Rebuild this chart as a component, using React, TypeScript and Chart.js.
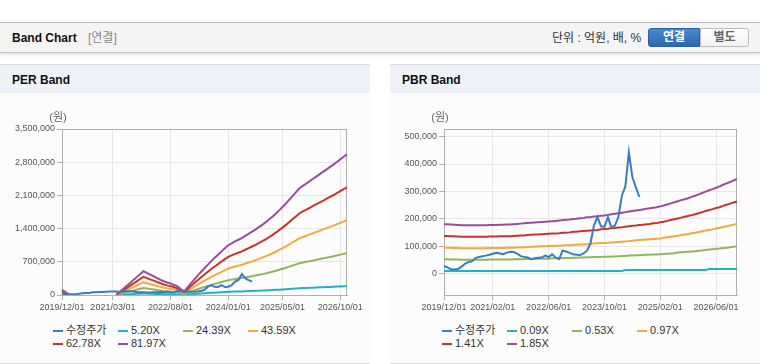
import React, { useEffect, useRef } from "react";
import { Chart, registerables } from "chart.js";
Chart.register(...registerables);

const FONT = "'Liberation Sans', 'Noto Sans CJK KR', sans-serif";
const TICK_FONT = "'Liberation Sans', sans-serif";

// monthly categories 2019/12 .. 2026/12
const MONTHS: string[] = (() => {
  const out: string[] = [];
  let y = 2019, m = 12;
  for (let i = 0; i < 85; i++) {
    out.push(`${y}/${String(m).padStart(2, "0")}/01`);
    m++;
    if (m > 12) { m = 1; y++; }
  }
  return out;
})();

const PER_X_TICKS = ["2019/12/01", "2021/03/01", "2022/08/01", "2024/01/01", "2025/05/01", "2026/10/01"];
const PBR_X_TICKS = ["2019/12/01", "2021/02/01", "2022/06/01", "2023/10/01", "2025/02/01", "2026/06/01"];
const PER_Y_TICKS = [0, 700000, 1400000, 2100000, 2800000, 3500000];
const PBR_Y_TICKS = [0, 100000, 200000, 300000, 400000, 500000];

const N13 = [null, null, null, null, null, null, null, null, null, null, null, null, null];
const N28 = [null, null, null, null, null, null, null, null, null, null, null, null, null, null, null, null, null, null, null, null, null, null, null, null, null, null, null, null];

const PRICE: (number | null)[] = [
  27000, 22000, 15000, 14000, 16000, 24000, 35000, 42000, 44000, 56000,
  60000, 63000, 65000, 68000, 72000, 75000, 73000, 70000, 76000, 79000,
  78000, 72000, 63000, 60000, 58000, 52000, 55000, 57000, 58000, 65000,
  60000, 70000, 58000, 52000, 83000, 80000, 75000, 70000, 68000, 67000,
  73000, 83000, 110000, 176000, 206000, 172000, 170000, 206000, 168000, 175000,
  206000, 285000, 318000, 443000, 352000, 315000, 280000,
  ...N28,
];

const PER_5_20: (number | null)[] = [
  7000, 4000, 1000, ...N13,
  0, 4000, 8000, 12000, 16000, 20000, 24000, 28000, 32000,
  29000, 27000, 25000, 23000, 20000, 18000, 17000, 16000, 14000, 11000, 8000, 5000,
  10000, 16000, 21000, 26000, 31000, 36000, 41000, 45000, 50000, 54000, 58000, 62000, 67000,
  69000, 72000, 74000, 76000, 79000, 82000, 85000, 87000, 91000, 94000, 97000, 101000, 105000, 109000, 113000, 118000, 122000, 127000, 133000, 138000, 143000, 146000, 149000, 152000, 155000, 159000, 162000, 165000, 168000, 171000, 174000, 178000, 181000, 185000, 188000,
];
const PER_24_39: (number | null)[] = [
  33000, 18000, 4000, ...N13,
  1000, 19000, 37000, 57000, 74000, 94000, 112000, 131000, 149000,
  138000, 128000, 118000, 107000, 96000, 86000, 79000, 73000, 64000, 54000, 37000, 22000,
  48000, 73000, 98000, 122000, 146000, 168000, 190000, 213000, 234000, 253000, 274000, 293000, 312000,
  324000, 336000, 347000, 357000, 370000, 384000, 397000, 411000, 425000, 440000, 455000, 473000, 491000, 510000, 531000, 552000, 574000, 598000, 622000, 646000, 669000, 684000, 699000, 714000, 729000, 744000, 759000, 774000, 788000, 803000, 818000, 834000, 851000, 867000, 882000,
];
const PER_43_59: (number | null)[] = [
  58000, 32000, 8000, ...N13,
  3000, 35000, 67000, 101000, 133000, 168000, 200000, 234000, 266000,
  247000, 229000, 210000, 190000, 171000, 154000, 141000, 130000, 114000, 96000, 67000, 40000,
  85000, 130000, 176000, 218000, 261000, 301000, 340000, 380000, 418000, 452000, 489000, 524000, 559000,
  580000, 601000, 620000, 638000, 662000, 686000, 710000, 734000, 761000, 787000, 814000, 846000, 878000, 912000, 950000, 987000, 1027000, 1069000, 1112000, 1154000, 1197000, 1224000, 1250000, 1277000, 1303000, 1330000, 1357000, 1383000, 1410000, 1436000, 1463000, 1492000, 1522000, 1551000, 1577000,
];
const PER_62_78: (number | null)[] = [
  84000, 46000, 11000, ...N13,
  4000, 50000, 96000, 146000, 192000, 241000, 287000, 337000, 383000,
  356000, 329000, 303000, 274000, 247000, 222000, 203000, 188000, 165000, 138000, 96000, 57000,
  123000, 188000, 253000, 314000, 375000, 433000, 490000, 548000, 601000, 651000, 705000, 755000, 804000,
  835000, 866000, 892000, 919000, 954000, 988000, 1023000, 1057000, 1095000, 1134000, 1172000, 1218000, 1264000, 1314000, 1367000, 1421000, 1478000, 1540000, 1601000, 1662000, 1724000, 1762000, 1800000, 1838000, 1877000, 1915000, 1953000, 1992000, 2030000, 2068000, 2107000, 2149000, 2191000, 2233000, 2271000,
];
const PER_81_97: (number | null)[] = [
  110000, 60000, 15000, ...N13,
  5000, 65000, 125000, 190000, 250000, 315000, 375000, 440000, 500000,
  465000, 430000, 395000, 358000, 322000, 290000, 265000, 245000, 215000, 180000, 125000, 75000,
  160000, 245000, 330000, 410000, 490000, 565000, 640000, 715000, 785000, 850000, 920000, 985000, 1050000,
  1090000, 1130000, 1165000, 1200000, 1245000, 1290000, 1335000, 1380000, 1430000, 1480000, 1530000, 1590000, 1650000, 1715000, 1785000, 1855000, 1930000, 2010000, 2090000, 2170000, 2250000, 2300000, 2350000, 2400000, 2450000, 2500000, 2550000, 2600000, 2650000, 2700000, 2750000, 2805000, 2860000, 2915000, 2965000,
];

const PBR_0_09: number[] = [
  8500, 8500, 8500, 8500, 8500, 8500, 8500, 8500, 8500, 8500,
  8500, 8500, 8500, 8500, 8500, 8500, 8500, 8500, 8500, 8500,
  8500, 8500, 8500, 8500, 8500, 8500, 8500, 8500, 8500, 8500,
  8500, 8500, 8500, 8500, 8500, 8500, 8500, 8500, 8500, 8500,
  8500, 8500, 8500, 8500, 8500, 8500, 8500, 8500, 8500, 8500,
  8500, 8500, 12000, 12000, 12000, 12000, 12000, 12000, 12000, 12000,
  12000, 12000, 12000, 12000, 12000, 12000, 12000, 12000, 12000, 12000,
  12000, 12000, 12000, 12000, 12000, 12000, 16000, 16000, 16000, 16000,
  16000, 16000, 16000, 16000, 16000,
];
const PBR_0_53: number[] = [
  52000, 52000, 51000, 51000, 51000, 50000, 50000, 50000, 50000, 50000,
  50000, 50000, 50000, 51000, 51000, 51000, 51000, 51000, 51000, 51000,
  52000, 52000, 52000, 52000, 53000, 53000, 53000, 54000, 54000, 54000,
  54000, 55000, 55000, 55000, 56000, 56000, 56000, 57000, 57000, 58000,
  58000, 59000, 59000, 60000, 60000, 60000, 61000, 61000, 62000, 62000,
  63000, 64000, 64000, 65000, 65000, 66000, 66000, 67000, 68000, 68000,
  69000, 69000, 70000, 71000, 72000, 73000, 74000, 76000, 77000, 78000,
  79000, 80000, 81000, 83000, 84000, 86000, 87000, 88000, 90000, 91000,
  93000, 94000, 96000, 97000, 99000,
];
const PBR_0_97: number[] = [
  94000, 94000, 94000, 93000, 93000, 92000, 92000, 92000, 92000, 92000,
  92000, 92000, 92000, 93000, 93000, 93000, 93000, 93000, 94000, 94000,
  94000, 95000, 95000, 96000, 96000, 97000, 97000, 98000, 99000, 99000,
  100000, 100000, 101000, 101000, 102000, 103000, 103000, 104000, 105000, 106000,
  106000, 107000, 108000, 109000, 110000, 111000, 111000, 112000, 113000, 114000,
  115000, 116000, 117000, 118000, 119000, 121000, 122000, 123000, 124000, 125000,
  126000, 127000, 128000, 130000, 132000, 134000, 136000, 138000, 140000, 142000,
  144000, 147000, 149000, 151000, 154000, 157000, 159000, 161000, 164000, 167000,
  170000, 172000, 175000, 178000, 181000,
];
const PBR_1_41: number[] = [
  137000, 137000, 136000, 136000, 135000, 134000, 134000, 134000, 134000, 134000,
  134000, 134000, 134000, 135000, 135000, 135000, 136000, 136000, 136000, 136000,
  137000, 138000, 139000, 139000, 140000, 141000, 142000, 142000, 143000, 144000,
  145000, 146000, 146000, 147000, 149000, 149000, 150000, 152000, 152000, 154000,
  155000, 156000, 157000, 158000, 159000, 161000, 162000, 163000, 165000, 166000,
  168000, 169000, 171000, 172000, 174000, 175000, 177000, 178000, 180000, 181000,
  183000, 184000, 187000, 189000, 192000, 195000, 198000, 201000, 204000, 207000,
  210000, 213000, 216000, 220000, 224000, 228000, 232000, 235000, 239000, 242000,
  247000, 251000, 255000, 259000, 263000,
];
const PBR_1_85: number[] = [
  180000, 180000, 179000, 178000, 177000, 176000, 176000, 176000, 176000, 176000,
  176000, 176000, 176000, 177000, 177000, 177000, 178000, 178000, 179000, 179000,
  180000, 181000, 182000, 183000, 184000, 185000, 186000, 187000, 188000, 189000,
  190000, 191000, 192000, 193000, 195000, 196000, 197000, 199000, 200000, 202000,
  203000, 205000, 206000, 208000, 209000, 211000, 212000, 214000, 216000, 218000,
  220000, 222000, 224000, 226000, 228000, 230000, 232000, 234000, 236000, 238000,
  240000, 242000, 245000, 248000, 252000, 256000, 260000, 264000, 268000, 271000,
  275000, 280000, 284000, 289000, 294000, 299000, 304000, 308000, 313000, 318000,
  324000, 329000, 334000, 340000, 345000,
];

const COLORS = ["#3b7ac6", "#22b1c6", "#92b55a", "#f4a93c", "#d0302c", "#9a4d9c"];
const PER_NAMES = ["수정주가", "5.20X", "24.39X", "43.59X", "62.78X", "81.97X"];
const PBR_NAMES = ["수정주가", "0.09X", "0.53X", "0.97X", "1.41X", "1.85X"];

const GRID = "#e6e6e6";
const AXIS = "#b0b0b0";

type BandProps = {
  names: string[];
  series: (number | null)[][];
  xTicks: string[];
  yTicks: number[];
  yMin: number;
  yMax: number;
  yWidth: number;
};

function BandChart({ names, series, xTicks, yTicks, yMin, yMax, yWidth }: BandProps) {
  const ref = useRef<HTMLCanvasElement | null>(null);
  useEffect(() => {
    if (!ref.current) return;
    const isTick = (i: number) => xTicks.includes(MONTHS[i]);
    const frame = {
      id: "frame",
      beforeDatasetsDraw(chart: any) {
        const { ctx, chartArea: a } = chart;
        ctx.save();
        ctx.strokeStyle = AXIS;
        ctx.lineWidth = 1;
        ctx.strokeRect(Math.round(a.left) + 0.5, Math.round(a.top) + 0.5, Math.round(a.right - a.left) - 1, Math.round(a.bottom - a.top));
        ctx.restore();
      },
      afterDraw(chart: any) {
        const { ctx, chartArea: a } = chart;
        ctx.save();
        ctx.fillStyle = "#666";
        ctx.font = `11px ${FONT}`;
        ctx.textAlign = "center";
        ctx.textBaseline = "middle";
        ctx.fillText("(원)", a.left - 4, a.top - 11);
        ctx.restore();
      },
    };
    const chart = new Chart(ref.current, {
      type: "line",
      data: {
        labels: MONTHS,
        datasets: names.map((n, k) => ({
          label: n,
          data: series[k],
          borderColor: COLORS[k],
          backgroundColor: COLORS[k],
          borderWidth: 2,
          pointRadius: 0,
          fill: false,
          spanGaps: false,
          order: k === 0 ? 0 : 6 - k,
        })),
      },
      options: {
        animation: false,
        responsive: false,
        devicePixelRatio: 1,
        layout: { padding: { top: 36, right: 23, bottom: 5, left: 0 } },
        plugins: { legend: { display: false }, tooltip: { enabled: false } },
        scales: {
          x: {
            type: "category",
            offset: false,
            grid: {
              color: (c: any) => (isTick(c.index) ? GRID : "rgba(0,0,0,0)"),
              tickColor: (c: any) => (isTick(c.index) ? AXIS : "rgba(0,0,0,0)"),
              tickLength: 5,
            },
            border: { color: AXIS },
            ticks: {
              autoSkip: false,
              maxRotation: 0,
              minRotation: 0,
              padding: 2,
              color: "#555",
              font: { family: TICK_FONT, size: 9 },
              callback: (v: any, i: number) => (isTick(i) ? MONTHS[i] : ""),
            },
            afterFit: (s: any) => { s.height = 20; },
          },
          y: {
            min: yMin,
            max: yMax,
            afterBuildTicks: (s: any) => { s.ticks = yTicks.map((v) => ({ value: v })); },
            grid: { color: GRID, tickColor: AXIS, tickLength: 5 },
            border: { color: AXIS },
            ticks: {
              padding: 2,
              color: "#555",
              font: { family: TICK_FONT, size: 9 },
              callback: (v: any) => Number(v).toLocaleString("en-US"),
            },
            afterFit: (s: any) => { s.width = yWidth; },
          },
        },
      },
      plugins: [frame],
    } as any);
    return () => chart.destroy();
  }, []);
  return <canvas ref={ref} width={370} height={227} style={{ position: "absolute", left: 0, top: 0, width: 370, height: 227 }} />;
}

function Legend({ names, left }: { names: string[]; left: number }) {
  return (
    <div style={{ position: "absolute", left, top: 231, width: 270, display: "flex", flexWrap: "wrap", fontSize: 11, lineHeight: "13px", color: "#333" }}>
      {names.map((n, k) => (
        <div key={n} style={{ width: 65, display: "flex", alignItems: "center" }}>
          <span style={{ display: "inline-block", width: 10, height: 2, background: COLORS[k], marginRight: 3 }} />
          <span>{n}</span>
        </div>
      ))}
    </div>
  );
}

function Panel(props: { left: number; title: string; legendLeft: number; chart: BandProps }) {
  return (
    <div style={{ position: "absolute", left: props.left, top: 64, width: 370, height: 300 }}>
      <div style={{ height: 28, borderTop: "1px solid #d9d9d9", background: "#eef2f8", paddingLeft: 12, lineHeight: "31px", fontWeight: "bold", fontSize: 12, color: "#111" }}>
        {props.title}
      </div>
      <div style={{ position: "absolute", top: 29, left: 0, width: 370, height: 270, background: "#fcfcfc", borderBottom: "1px solid #dcdcdc" }}>
        <BandChart {...props.chart} />
        <Legend names={props.chart.names} left={props.legendLeft} />
      </div>
    </div>
  );
}

export default function App() {
  return (
    <div style={{ position: "relative", width: 760, height: 364, background: "#fff", fontFamily: FONT, overflow: "hidden" }}>
      <style>{"body{margin:0}"}</style>
      <div style={{ position: "absolute", left: 0, top: 22, width: 760, height: 29, background: "#f4f4f4", borderTop: "1px solid #bdbdbd", borderBottom: "1px solid #c6c6c6", boxShadow: "0 2px 3px rgba(0,0,0,0.12)" }}>
        <span style={{ position: "absolute", left: 12, top: 1, lineHeight: "29px", fontSize: 12, fontWeight: "bold", color: "#111" }}>Band Chart</span>
        <span style={{ position: "absolute", left: 88, top: 1, lineHeight: "29px", fontSize: 12, color: "#888" }}>[연결]</span>
        <span style={{ position: "absolute", left: 552, top: 1, lineHeight: "29px", fontSize: 12, color: "#333" }}>단위 : 억원, 배, %</span>
        <div style={{ position: "absolute", left: 648, top: 5, width: 50, height: 17, background: "linear-gradient(#4a88cc, #2c68aa)", border: "1px solid #2a62a0", borderRadius: "3px 0 0 3px", color: "#fff", fontSize: 12, fontWeight: "bold", textAlign: "center", lineHeight: "17px" }}>연결</div>
        <div style={{ position: "absolute", left: 700, top: 5, width: 47, height: 17, background: "linear-gradient(#ffffff, #f1f1f1)", border: "1px solid #bdbdbd", borderRadius: "0 3px 3px 0", color: "#666", fontSize: 12, fontWeight: "bold", textAlign: "center", lineHeight: "17px" }}>별도</div>
      </div>
      <Panel
        left={0}
        title="PER Band"
        legendLeft={53}
        chart={{ names: PER_NAMES, series: [PRICE, PER_5_20, PER_24_39, PER_43_59, PER_62_78, PER_81_97], xTicks: PER_X_TICKS, yTicks: PER_Y_TICKS, yMin: 0, yMax: 3500000, yWidth: 62 }}
      />
      <Panel
        left={390}
        title="PBR Band"
        legendLeft={52}
        chart={{ names: PBR_NAMES, series: [PRICE, PBR_0_09, PBR_0_53, PBR_0_97, PBR_1_41, PBR_1_85], xTicks: PBR_X_TICKS, yTicks: PBR_Y_TICKS, yMin: -79000, yMax: 528000, yWidth: 54 }}
      />
    </div>
  );
}
